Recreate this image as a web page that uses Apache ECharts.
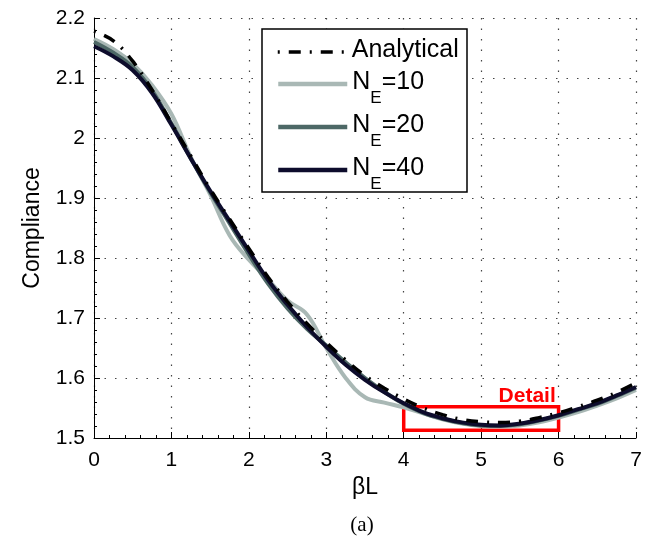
<!DOCTYPE html>
<html>
<head>
<meta charset="utf-8">
<script src="https://cdn.jsdelivr.net/npm/echarts@6/dist/echarts.min.js"></script>
<style>
html,body{margin:0;padding:0;background:#fff;}
#chart{width:645px;height:539px;}
</style>
</head>
<body>
<div id="chart"></div>
<script>
// βL sample positions
const betaL = [0, 0.25, 0.5, 0.75, 1.0, 1.25, 1.5, 1.75, 2.0, 2.25, 2.5, 2.75, 3.0, 3.25, 3.5, 3.75, 4.0, 4.25, 4.5, 4.75, 5.0, 5.25, 5.5, 5.75, 6.0, 6.25, 6.5, 6.75, 7.0];
const analytical = [2.178, 2.162, 2.128, 2.080, 2.025, 1.970, 1.915, 1.865, 1.816, 1.768, 1.727, 1.691, 1.659, 1.630, 1.604, 1.583, 1.565, 1.550, 1.539, 1.531, 1.527, 1.526, 1.528, 1.534, 1.542, 1.552, 1.563, 1.576, 1.592];
const ne10 = [2.165, 2.148, 2.124, 2.088, 2.040, 1.968, 1.906, 1.838, 1.797, 1.764, 1.729, 1.706, 1.650, 1.600, 1.568, 1.559, 1.551, 1.541, 1.531, 1.524, 1.520, 1.519, 1.521, 1.526, 1.534, 1.543, 1.554, 1.566, 1.580];
const ne20 = [2.160, 2.142, 2.118, 2.079, 2.024, 1.966, 1.910, 1.858, 1.806, 1.757, 1.716, 1.682, 1.654, 1.626, 1.600, 1.577, 1.557, 1.542, 1.532, 1.525, 1.521, 1.520, 1.523, 1.529, 1.537, 1.547, 1.557, 1.570, 1.584];
const ne40 = [2.153, 2.136, 2.113, 2.075, 2.022, 1.966, 1.912, 1.862, 1.812, 1.763, 1.722, 1.685, 1.652, 1.622, 1.597, 1.576, 1.558, 1.543, 1.533, 1.526, 1.522, 1.521, 1.524, 1.530, 1.538, 1.548, 1.558, 1.571, 1.585];
const seriesNames = ['Analytical', 'N_E=10', 'N_E=20', 'N_E=40'];
const xTicks = {min: 0, max: 7, interval: 1};
const yTicks = {min: 1.5, max: 2.2, interval: 0.1};
const detailX = [4, 6];
const detailY = [1.513, 1.552];
const detailText = 'Detail';
const captionText = '(a)';

function pairs(ys) { return betaL.map((x, i) => [x, ys[i]]); }

const chart = echarts.init(document.getElementById('chart'), null, {renderer: 'canvas'});
const FONT = 'Liberation Sans';

function legendFormatter(name) {
  if (name.indexOf('_') < 0) return '{a|' + name + '}';
  const parts = name.split('_');
  return '{a|' + parts[0] + '}{s|' + parts[1].charAt(0) + '}{a|' + parts[1].slice(1) + '}';
}
const legendText = {
  fontFamily: FONT, color: '#000', fontSize: 25,
  rich: {
    a: {fontFamily: FONT, fontSize: 25, lineHeight: 28, verticalAlign: 'top', color: '#000'},
    s: {fontFamily: FONT, fontSize: 17, lineHeight: 17, padding: [20, 0, 0, 0], verticalAlign: 'top', color: '#000'}
  }
};
const legendCommon = {
  orient: 'vertical', left: 276, padding: 0,
  itemWidth: 69, itemHeight: 14, selectedMode: false,
  itemStyle: {opacity: 0},
  formatter: legendFormatter, textStyle: legendText
};

const option = {
  animation: false,
  backgroundColor: '#fff',
  grid: {left: 94, right: 9, top: 18, bottom: 101},
  xAxis: {
    type: 'value', min: xTicks.min, max: xTicks.max, interval: xTicks.interval,
    name: 'βL', nameLocation: 'middle', nameGap: 38,
    nameTextStyle: {fontFamily: FONT, fontSize: 23, color: '#000'},
    axisLine: {show: true, onZero: false, lineStyle: {color: '#000', width: 1}},
    axisTick: {show: true, inside: true, length: 6, lineStyle: {color: '#000'}},
    minorTick: {show: true, splitNumber: 5, length: 3, lineStyle: {color: '#000'}},
    axisLabel: {fontFamily: FONT, fontSize: 21, color: '#000', margin: 12},
    splitLine: {show: true, lineStyle: {color: '#444', width: 1.2, type: [1.5, 9]}}
  },
  yAxis: {
    type: 'value', min: yTicks.min, max: yTicks.max, interval: yTicks.interval,
    name: 'Compliance', nameLocation: 'middle', nameGap: 50,
    nameTextStyle: {fontFamily: FONT, fontSize: 23, color: '#000'},
    axisLine: {show: true, lineStyle: {color: '#000', width: 1}},
    axisTick: {show: true, inside: true, length: 6, lineStyle: {color: '#000'}},
    minorTick: {show: true, splitNumber: 5, length: 3, lineStyle: {color: '#000'}},
    axisLabel: {fontFamily: FONT, fontSize: 21, color: '#000', margin: 9,
      formatter: v => String(Math.round(v * 10) / 10)},
    splitLine: {show: true, lineStyle: {color: '#444', width: 1.2, type: [1.5, 9]}}
  },
  legend: [
    Object.assign({}, legendCommon, {top: 38, data: [seriesNames[0]], lineStyle: {width: 3.5}}),
    Object.assign({}, legendCommon, {top: 70, itemGap: 6, data: seriesNames.slice(1), lineStyle: {width: 4.5}})
  ],
  series: [
    {
      name: seriesNames[1], type: 'line', smooth: 0.4, symbol: 'none', z: 2,
      data: pairs(ne10),
      lineStyle: {color: '#a9b8b5', width: 4}, itemStyle: {color: '#a9b8b5'}
    },
    {
      name: seriesNames[2], type: 'line', smooth: 0.4, symbol: 'none', z: 3,
      data: pairs(ne20),
      lineStyle: {color: '#4d6866', width: 4}, itemStyle: {color: '#4d6866'}
    },
    {
      name: seriesNames[3], type: 'line', smooth: 0.4, symbol: 'none', z: 4,
      data: pairs(ne40),
      lineStyle: {color: '#0d0c2c', width: 4}, itemStyle: {color: '#0d0c2c'}
    },
    {
      name: seriesNames[0], type: 'line', smooth: 0.4, symbol: 'none', z: 5,
      data: pairs(analytical),
      lineStyle: {color: '#000', width: 3.5, type: [12, 9, 2, 9], dashOffset: 21}, itemStyle: {color: '#000'},
      markArea: {
        silent: true,
        itemStyle: {color: 'rgba(0,0,0,0)', borderColor: '#ff0000', borderWidth: 3.5},
        label: {show: true, position: 'top', distance: 0, offset: [46, 2],
          formatter: detailText, color: '#ff0000', fontFamily: FONT, fontWeight: 'bold', fontSize: 21},
        data: [[{coord: [detailX[0], detailY[0]]}, {coord: [detailX[1], detailY[1]]}]]
      }
    }
  ],
  graphic: [
    {type: 'rect', z: 3, shape: {x: 262, y: 29, width: 205, height: 163},
      style: {fill: '#fff', stroke: '#000', lineWidth: 1.5}},
    {type: 'text', z: 3, x: 362, y: 525,
      style: {text: captionText, fontFamily: 'Liberation Serif', fontSize: 21, fill: '#000', align: 'center', verticalAlign: 'middle'}}
  ]
};
chart.setOption(option);
</script>
</body>
</html>
